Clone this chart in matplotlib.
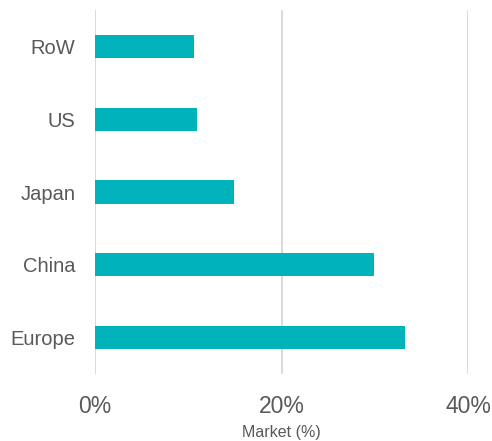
import matplotlib.pyplot as plt

# Data (market share, %)
regions = ['Europe', 'China', 'Japan', 'US', 'RoW']
share = [33.2, 29.9, 14.9, 10.9, 10.6]
ticks = [0, 20, 40]
tick_labels = ['0%', '20%', '40%']

plt.rcParams['font.family'] = ['Liberation Sans', 'DejaVu Sans']

fig = plt.figure(figsize=(4.92, 4.41), dpi=100)
ax = fig.add_axes([95 / 492, 67 / 441, 373 / 492, 364 / 441])

ax.barh(regions, share, height=0.32, color='#00B2BA', zorder=3)

ax.set_xlim(0, 40)
ax.set_ylim(-0.5, 4.5)
ax.set_xticks(ticks)
ax.set_xticklabels(tick_labels)
ax.grid(axis='x', color='#D9D9D9', linewidth=1.4, zorder=0)
ax.set_axisbelow(True)

for s in ax.spines.values():
    s.set_visible(False)

ax.tick_params(axis='both', length=0, colors='#595959')
ax.tick_params(axis='x', labelsize=16.5, pad=15)
ax.tick_params(axis='y', labelsize=14.5, pad=14)
ax.set_xlabel('Market (%)', fontsize=11.5, color='#595959', labelpad=5)

fig.savefig('out.png', dpi=100)
